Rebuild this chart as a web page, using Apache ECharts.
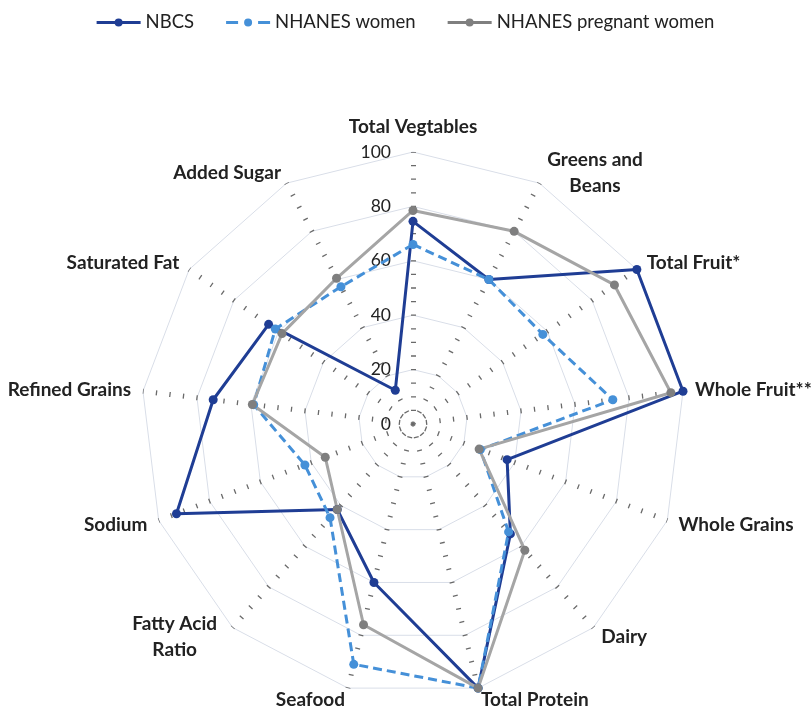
<!DOCTYPE html>
<html>
<head>
<meta charset="utf-8">
<script src="https://cdn.jsdelivr.net/npm/echarts@6/dist/echarts.min.js"></script>
<style>
html,body{margin:0;padding:0;background:#fff;}
#chart{width:811px;height:709px;}
</style>
</head>
<body>
<div id="chart"></div>
<script>
const categories = ['Total Vegtables', 'Greens and\nBeans', 'Total Fruit*', 'Whole Fruit**', 'Whole Grains', 'Dairy',
  'Total Protein', 'Seafood', 'Fatty Acid\nRatio', 'Sodium', 'Refined Grains', 'Saturated Fat', 'Added Sugar'];
const nbcs = [74.5, 60, 100, 100, 37, 54, 100, 60, 42, 93, 74, 64.5, 14];
const nhanesWomen = [66, 60, 58, 74, 26.5, 53, 100, 91, 46, 42.5, 59, 61.5, 57];
const nhanesPregnant = [78.5, 80, 90, 95.5, 26, 62, 100, 76, 42, 34.5, 59.5, 58.5, 60.5];
const axisMax = 100;
const seriesNames = ['NBCS', 'NHANES women', 'NHANES pregnant women'];

// ECharts radar runs counter-clockwise; reorder so categories run clockwise from the top.
const order = [0].concat(categories.map((_, i) => i).slice(1).reverse());
const reorder = arr => order.map(i => arr[i]);

const FONT = 'Lato';
const TEXT = '#222';
const chart = echarts.init(document.getElementById('chart'));
const indicators = reorder(categories).map((c, i) => {
  const o = { name: c, max: axisMax, min: 0 };
  if (i === 0) o.axisLabel = { show: true };
  return o;
});
const solidIcon = 'path://M0,3.6 L44,3.6 L44,6.4 L0,6.4 Z M26,5 A4,4 0 1 1 18,5 A4,4 0 1 1 26,5 Z';
const dashIcon = 'path://M0,3.6 L12,3.6 L12,6.4 L0,6.4 Z M32,3.6 L44,3.6 L44,6.4 L32,6.4 Z M26,5 A4,4 0 1 1 18,5 A4,4 0 1 1 26,5 Z';

chart.setOption({
  animation: false,
  legend: {
    top: 8,
    left: 'center',
    itemWidth: 44,
    itemHeight: 10,
    itemGap: 32,
    textStyle: { fontFamily: FONT, fontSize: 18.5, color: TEXT },
    data: [
      { name: seriesNames[0], icon: solidIcon },
      { name: seriesNames[1], icon: dashIcon },
      { name: seriesNames[2], icon: solidIcon }
    ]
  },
  radar: {
    center: [413, 424],
    radius: 272,
    startAngle: 90,
    splitNumber: 5,
    shape: 'polygon',
    indicator: indicators,
    axisName: {
      fontFamily: FONT,
      fontSize: 19,
      fontWeight: 'bold',
      color: TEXT,
      lineHeight: 26,
      formatter: function (name) {
        if (name.indexOf('\n') >= 0) {
          return name.split('\n').map(s => '{c|' + s + '}').join('\n');
        }
        return name;
      },
      rich: {
        c: { width: 100, align: 'center', fontFamily: FONT, fontSize: 19, fontWeight: 'bold', color: TEXT, lineHeight: 26 }
      }
    },
    nameGap: 12,
    splitLine: { lineStyle: { color: '#d9dee8', width: 1 } },
    splitArea: { show: false },
    axisLine: { lineStyle: { color: '#6a6a6a', width: 5, type: [1.3, 12.3], dashOffset: 0.65, cap: 'butt' } },
    axisTick: { show: false },
    axisLabel: { show: false, fontFamily: FONT, fontSize: 17.5, color: TEXT, margin: 22 }
  },
  series: [{
    type: 'radar',
    data: [
      {
        name: seriesNames[0], value: reorder(nbcs),
        symbol: 'circle', symbolSize: 9,
        lineStyle: { color: '#1f3d94', width: 3 },
        itemStyle: { color: '#1f3d94' }
      },
      {
        name: seriesNames[1], value: reorder(nhanesWomen),
        symbol: 'circle', symbolSize: 9,
        lineStyle: { color: '#4590d8', width: 3, type: [9, 5] },
        itemStyle: { color: '#4590d8' }
      },
      {
        name: seriesNames[2], value: reorder(nhanesPregnant),
        symbol: 'circle', symbolSize: 9,
        lineStyle: { color: '#a5a5a5', width: 3 },
        itemStyle: { color: '#7f7f7f' }
      }
    ]
  }]
});
</script>
</body>
</html>
